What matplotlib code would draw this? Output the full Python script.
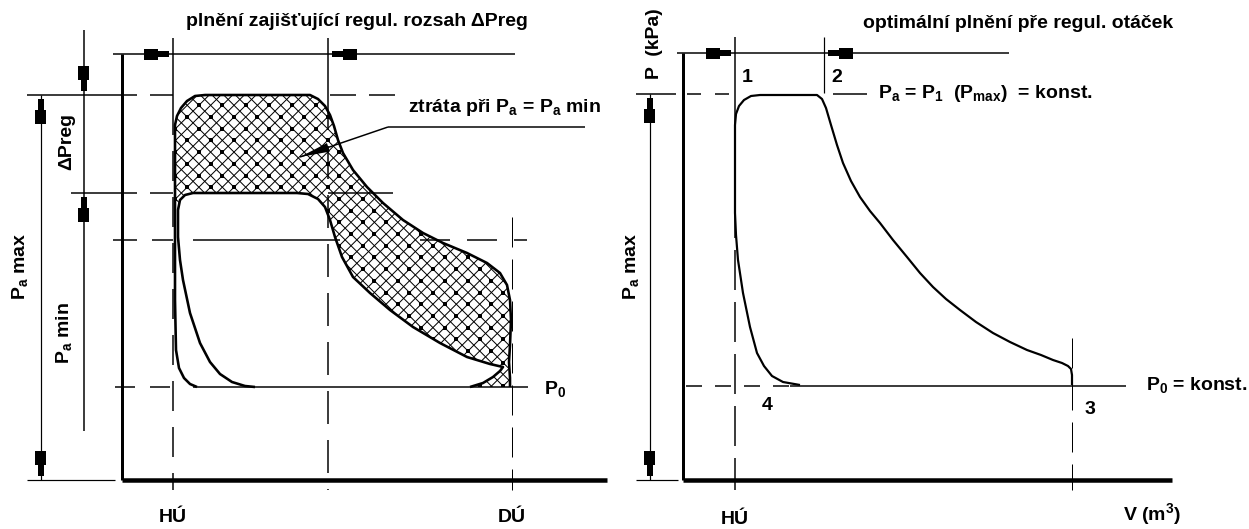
import numpy as np
import matplotlib.pyplot as plt
from matplotlib.collections import LineCollection
from matplotlib.patches import Polygon

plt.rcParams["font.family"] = ["Liberation Sans", "DejaVu Sans"]
plt.rcParams["font.weight"] = "bold"
plt.rcParams["mathtext.fontset"] = "custom"
for key in ("rm", "it", "bf", "sf"):
    plt.rcParams["mathtext." + key] = "Liberation Sans:bold"
plt.rcParams["lines.scale_dashes"] = False
plt.rcParams["lines.solid_capstyle"] = "butt"

# drawing units = pixels of the sheet, P grows downwards
# left diagram levels
V_HU, V_MID, V_DU = 173, 328, 512
P_TOP, P_AMAX, P_AMIN, P_MID, P_0, P_BASE = 54, 95, 193, 240, 387, 480
X_AXIS_L = 122
X_DIM_MAX, X_DIM_REG = 41, 84

# right diagram levels
R_HU, R_2, R_3 = 735, 824, 1072
R_TOP, R_PA, R_P0, R_BASE = 53, 94, 386, 480
X_AXIS_R = 683
X_DIM_R = 650

# outer cycle (P_a = P_a max), lower left part
outer_low_v = [197, 190, 184, 179, 176, 175, 175]
outer_low_p = [387, 384, 378, 368, 350, 300, 200]
# outer cycle, upper part + expansion down to DU
outer_top_v = [175, 175, 177, 181, 187, 195, 205, 310, 318, 325, 330, 334, 338, 343,
               353, 367, 383, 403, 423, 443, 467, 487, 500, 507, 510, 511, 510, 509, 510, 510]
outer_top_p = [200, 125, 116, 108, 101, 96, 95, 95, 99, 106, 115, 126, 140, 153,
               170, 187, 203, 220, 233, 243, 253, 263, 273, 285, 300, 320, 345, 362, 378, 387]
# inner cycle (P_a = P_a min), from DU back over the top
inner_right_v = [470, 483, 493, 500, 503, 490, 467, 440, 413, 390, 370, 353, 342,
                 335, 330, 325, 318, 308, 297, 193, 185, 180, 178]
inner_right_p = [387, 383, 377, 371, 367, 364, 357, 343, 327, 310, 293, 277, 257,
                 237, 220, 207, 199, 194, 193, 193, 195, 200, 210]
inner_low_v = [178, 178, 180, 183, 190, 200, 210, 220, 232, 245, 255]
inner_low_p = [210, 237, 260, 280, 313, 343, 362, 374, 382, 386, 387]

# right diagram cycle 1-2-3-4
right_v = [800, 783, 772, 764, 757, 750, 743, 738, 736, 735, 735, 736, 739, 744, 751, 760,
           817, 822, 826, 831, 837, 843, 851, 860, 870, 880, 893, 907, 920, 933, 946,
           960, 976, 993, 1010, 1027, 1041, 1053, 1062, 1068, 1071, 1072, 1072]
right_p = [385, 382, 376, 366, 353, 327, 293, 260, 235, 213, 125, 114, 106, 100, 96, 95,
           95, 99, 108, 125, 145, 163, 181, 197, 211, 223, 240, 257, 273, 287, 299,
           310, 322, 333, 342, 350, 355, 360, 363, 366, 369, 375, 385]

fig = plt.figure(figsize=(12.49, 5.29), dpi=100)
ax = fig.add_axes([0, 0, 1, 1])
ax.set_xlim(0, 1249)
ax.set_ylim(529, 0)
ax.axis("off")

K = "black"
PX = 0.72  # points per pixel


def hline(y, x0, x1, w=1.5, dash=None):
    ls = "-" if dash is None else (0, tuple(d * PX for d in dash))
    ax.plot([x0, x1], [y, y], color=K, lw=w * PX, ls=ls)


def vline(x, y0, y1, w=1.5, dash=None):
    ls = "-" if dash is None else (0, tuple(d * PX for d in dash))
    ax.plot([x, x], [y0, y1], color=K, lw=w * PX, ls=ls)


def block_arrow(tx, ty, dx, dy):
    u = np.array([4, 15, 15, 29, 29, 15, 15, 4])
    w = np.array([3, 3, 5.5, 5.5, -5.5, -5.5, -3, -3])
    ax.fill(tx - u * dx - w * dy, ty - u * dy + w * dx, color=K, lw=0)


def label(x, y, s, rot=0, ha="center", size=14):
    ax.text(x, y, s, ha=ha, va="center", rotation=rot, fontsize=size,
            fontweight="bold", color=K)


# ---------------- left diagram ----------------
# hatched loss area between the two cycles
loss = Polygon(np.column_stack([outer_top_v + inner_right_v, outer_top_p + inner_right_p]),
               closed=True, fill=False, lw=0)
ax.add_patch(loss)
step = 11.7
offs = np.arange(-40, 90) * step
segs = [[(c + 80, 80), (c + 400, 400)] for c in offs]
segs += [[(c - 80, 80), (c - 400, 400)] for c in offs]
hatch = LineCollection(segs, colors=K, linewidths=1.0 * PX)
ax.add_collection(hatch)
hatch.set_clip_path(loss)
ii, jj = np.meshgrid(np.arange(-30, 60), np.arange(-30, 60))
dot_x = ((ii + jj) * step).ravel()
dot_y = ((jj - ii) * step).ravel()
keep = (dot_x > 150) & (dot_x < 530) & (dot_y > 80) & (dot_y < 400)
dots = ax.scatter(dot_x[keep], dot_y[keep], s=5, c=K, marker="s", lw=0)
dots.set_clip_path(loss)

# frame
hline(P_TOP, 113, 515)
vline(X_AXIS_L, P_TOP, P_BASE, w=3)
hline(P_BASE, X_AXIS_L, 607, w=4.5)

# verticals HU, mid, DU
vline(V_HU, 38, 105)
vline(V_HU, 105, 490, dash=(30, 16))
vline(V_MID, 38, 97)
vline(V_MID, 97, 490, dash=(33, 16))
vline(V_DU, 217, 490, w=1, dash=(30, 12))

# pressure levels
hline(P_AMAX, 27, 137)
hline(P_AMAX, 150, 173)
hline(P_AMAX, 330, 395, dash=(26, 13))
hline(P_AMIN, 71, 137)
hline(P_AMIN, 150, 173)
hline(P_AMIN, 328, 393)
hline(P_MID, 113, 137)
hline(P_MID, 152, 173)
hline(P_MID, 193, 340)
hline(P_MID, 420, 527, dash=(30, 17))
hline(P_0, 115, 175, dash=(20, 15))
hline(P_0, 193, 528)
hline(P_BASE, 27, 115, w=1.2)

# dimension lines
vline(X_DIM_MAX, P_AMAX, P_BASE, w=1.2)
vline(X_DIM_REG, 30, 431, w=1.5)
block_arrow(V_HU, P_TOP, 1, 0)
block_arrow(V_MID, P_TOP, -1, 0)
block_arrow(X_DIM_MAX, P_AMAX, 0, -1)
block_arrow(X_DIM_MAX, P_BASE, 0, 1)
block_arrow(X_DIM_REG, P_AMAX, 0, 1)
block_arrow(X_DIM_REG, P_AMIN, 0, -1)

# cycles
ax.plot(outer_low_v + outer_top_v, outer_low_p + outer_top_p, color=K, lw=2.6 * PX,
        solid_joinstyle="round")
ax.plot(inner_right_v + inner_low_v, inner_right_p + inner_low_p, color=K, lw=2.6 * PX,
        solid_joinstyle="round")

# leader to the loss area
hline(127, 388, 585)
lead_d = np.array([-88.0, 30.0]) / np.hypot(88, 30)
ax.plot([388, 300], [127, 157], color=K, lw=1.5 * PX)
wu = np.array([0, 30, 30])
ww = np.array([0, 4.5, -4.5])
ax.fill(300 - wu * lead_d[0] - ww * lead_d[1], 157 - wu * lead_d[1] + ww * lead_d[0],
        color=K, lw=0)

label(357, 22, "plnění zajišťující regul. rozsah ΔPreg")
label(408, 108, "ztráta při $P_a$ = $P_a$ min", ha="left")
label(67, 142, "ΔPreg", rot=90)
label(64, 333, "$P_a$ min", rot=90)
label(20, 266, "$P_a$ max", rot=90)
label(544, 389, "$P_0$", ha="left")
label(V_HU, 518, "HÚ")
label(V_DU, 518, "DÚ")

# ---------------- right diagram ----------------
hline(R_TOP, 677, 1009)
vline(X_AXIS_R, R_TOP, R_BASE, w=3)
hline(R_BASE, X_AXIS_R, 1172, w=4.5)

vline(R_HU, 37, R_PA)
vline(R_HU, R_PA, 490, dash=(40, 12))
vline(R_2, 37, R_PA - 1, w=1.2)
vline(R_3, 338, 490, w=1, dash=(30, 12))

hline(R_PA, 636, 676)
hline(R_PA, 687, 735, dash=(14, 14))
hline(R_PA, 833, 867)
hline(R_P0, 686, 790, dash=(16, 13))
hline(R_P0, 790, 1126)
hline(R_BASE, 636, 678, w=1.2)

vline(X_DIM_R, R_PA, R_BASE, w=1.2)
block_arrow(R_HU, R_TOP, 1, 0)
block_arrow(R_2, R_TOP, -1, 0)
block_arrow(X_DIM_R, R_PA, 0, -1)
block_arrow(X_DIM_R, R_BASE, 0, 1)

ax.plot(right_v, right_p, color=K, lw=2.2 * PX, solid_joinstyle="round")

label(1018, 23, "optimální plnění pře regul. otáček")
label(655, 44, "P  (kPa)", rot=90)
label(747, 77, "1")
label(837, 77, "2")
label(878, 94, "$P_a$ = $P_1$  ($P_{max}$)  = konst.", ha="left")
label(631, 266, "$P_a$ max", rot=90)
label(1146, 385, "$P_0$ = konst.", ha="left")
label(767, 405, "4")
label(1090, 410, "3")
label(R_HU, 520, "HÚ")
label(1152, 514, "V (m$^3$)")

fig.savefig("out.png", dpi=100, facecolor="white")
